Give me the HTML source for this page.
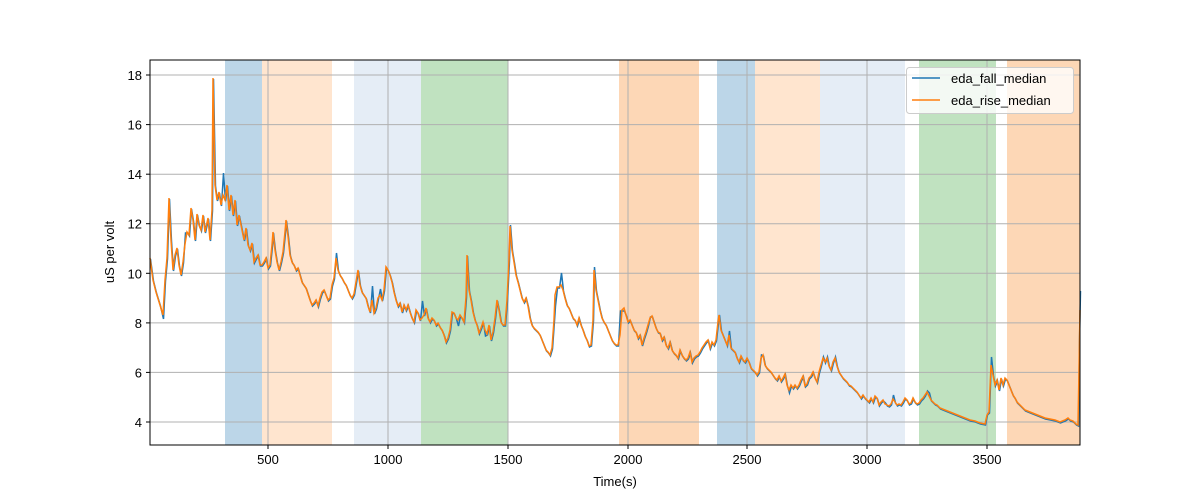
<!DOCTYPE html><html><head><style>body{margin:0;background:#fff}svg{display:block}text{font-family:"Liberation Sans","DejaVu Sans",sans-serif;font-size:13px;fill:#000}</style></head><body>
<svg width="1200" height="500" xmlns="http://www.w3.org/2000/svg">
<rect x="225" y="60" width="37" height="385" fill="#bcd6e8"/>
<rect x="262" y="60" width="70" height="385" fill="#ffe5cf"/>
<rect x="354" y="60" width="67" height="385" fill="#e5edf6"/>
<rect x="421" y="60" width="87" height="385" fill="#c0e2c0"/>
<rect x="619" y="60" width="80" height="385" fill="#fdd7b6"/>
<rect x="717" y="60" width="38" height="385" fill="#bcd6e8"/>
<rect x="755" y="60" width="65" height="385" fill="#ffe5cf"/>
<rect x="820" y="60" width="85" height="385" fill="#e5edf6"/>
<rect x="919" y="60" width="77" height="385" fill="#c0e2c0"/>
<rect x="1007" y="60" width="73" height="385" fill="#fdd7b6"/>
<g stroke="#b0b0b0" stroke-width="1">
<line x1="268" y1="60" x2="268" y2="445"/><line x1="388" y1="60" x2="388" y2="445"/><line x1="508" y1="60" x2="508" y2="445"/><line x1="628" y1="60" x2="628" y2="445"/><line x1="747" y1="60" x2="747" y2="445"/><line x1="867" y1="60" x2="867" y2="445"/><line x1="987" y1="60" x2="987" y2="445"/>
<line x1="150" y1="75" x2="1080" y2="75"/><line x1="150" y1="124.6" x2="1080" y2="124.6"/><line x1="150" y1="174.2" x2="1080" y2="174.2"/><line x1="150" y1="223.7" x2="1080" y2="223.7"/><line x1="150" y1="273.3" x2="1080" y2="273.3"/><line x1="150" y1="322.9" x2="1080" y2="322.9"/><line x1="150" y1="372.4" x2="1080" y2="372.4"/><line x1="150" y1="422" x2="1080" y2="422"/>
</g>
<polyline id="p" fill="none" stroke="#1f77b4" stroke-width="1.5" transform="translate(0.5,1)" points="150,258 153,280 156,292 160,305 163,318 165,280 167,258 169,198 171,240 173,270 175,255 177,248 179,265 181,275 183,262 185,232 187,232 189,235 191,208 193,220 195,240 197,214 199,225 201,230 203,215 205,232 208,218 210,240 212,210 213,78 215,185 217,200 219,192 221,205 223,172 225,200 227,185 229,210 231,195 233,215 235,200 237,225 239,215 242,230 244,240 246,228 248,245 250,250 252,243 254,262 256,258 258,255 260,265 262,265 264,262 266,258 268,268 270,265 272,245 273,232 275,250 277,262 279,270 281,262 283,252 285,232 286,220 288,236 290,255 292,262 294,265 296,270 298,268 300,275 302,282 304,285 306,288 308,294 310,300 312,305 314,303 316,300 318,306 320,298 322,292 324,290 326,295 328,300 330,298 332,285 334,278 336,252 338,270 340,275 342,278 344,282 346,285 348,290 350,295 352,298 354,294 356,282 358,270 360,285 362,292 364,295 366,298 368,306 370,312 372,285 374,313 376,308 378,298 380,288 382,300 384,290 386,267 388,270 390,275 392,282 394,292 396,300 398,306 400,303 402,312 404,305 406,310 408,305 410,312 412,318 414,322 416,310 418,313 420,320 422,300 424,315 426,308 428,318 430,322 432,318 434,320 436,325 438,323 440,327 442,330 444,335 446,342 448,338 450,330 452,312 454,313 456,318 458,325 460,315 462,318 464,322 466,297 467,255 469,290 471,300 473,312 475,320 477,325 479,333 481,328 483,322 485,335 487,334 489,325 491,340 493,332 495,318 497,300 499,310 501,322 503,325 505,325 507,300 509,260 510,224 512,250 514,262 516,275 518,282 520,290 522,298 524,302 526,298 528,306 530,318 532,325 534,328 536,330 538,332 540,335 542,340 544,345 546,350 548,352 550,355 552,348 554,320 555,305 557,287 559,287 561,272 563,290 565,298 567,305 569,308 571,313 573,318 575,320 577,325 579,318 581,325 583,330 585,336 587,340 589,346 591,345 593,320 594,266 596,290 598,300 600,310 602,318 604,322 606,325 608,330 610,335 612,340 614,343 616,345 618,345 620,310 622,310 624,310 626,315 628,322 630,320 632,325 634,330 636,332 638,338 640,335 642,345 644,338 646,332 648,325 650,316 652,316 654,322 656,328 658,332 660,333 662,340 664,337 666,345 668,348 670,342 672,350 674,353 676,355 678,358 680,350 682,355 684,358 686,360 688,358 690,352 692,362 694,358 696,356 698,355 700,352 702,348 704,345 706,342 708,340 710,348 712,342 714,345 716,340 718,322 719,314 721,330 723,335 725,340 727,345 729,330 731,348 733,350 735,352 737,358 739,362 741,356 743,360 745,362 747,358 749,362 751,368 753,370 755,372 757,375 759,372 761,354 763,355 765,365 767,368 769,370 771,372 773,375 775,378 777,380 779,376 781,381 783,378 785,374 787,385 789,392 791,385 793,388 795,385 797,388 799,385 801,380 803,376 805,386 807,384 809,378 811,376 813,372 815,378 817,382 819,372 821,365 823,356 825,362 827,356 829,366 831,370 833,362 835,356 837,366 839,372 841,375 843,378 845,380 847,382 849,385 851,386 853,388 855,390 857,392 859,395 861,398 863,395 865,398 867,400 869,402 871,398 873,402 875,396 877,398 879,405 881,402 883,400 885,402 887,405 889,406 891,404 893,394 895,402 897,405 899,404 901,405 903,402 905,398 907,400 909,404 911,403 913,398 915,402 917,404 919,403 921,400 923,398 925,395 927,390 929,392 931,400 933,402 935,404 937,405 940,408 945,410 950,412 955,414 960,416 965,418 970,420 975,421 980,423 985,424 987,414 989,412 991,356 993,375 995,385 997,380 999,390 1001,378 1003,385 1005,378 1007,380 1009,385 1011,390 1013,395 1015,398 1017,402 1020,405 1025,410 1030,412 1035,414 1040,416 1045,418 1050,419 1055,420 1060,422 1065,420 1068,418 1070,420 1073,421 1076,424 1078,425 1079,340 1080,290"/>
<polyline fill="none" stroke="#ff7f0e" stroke-width="1.5" points="150,258 153,280 156,292 160,305 163,315 165,280 167,258 169,198 171,240 173,270 175,255 177,248 179,265 181,275 183,262 185,244 187,232 189,235 191,208 193,220 195,240 197,214 199,225 201,230 203,215 205,232 208,218 210,240 212,210 213,78 215,185 217,200 219,192 221,205 223,195 225,200 227,185 229,210 231,195 233,215 235,200 237,225 239,215 242,230 244,240 246,228 248,245 250,250 252,243 254,262 256,258 258,255 260,265 262,265 264,262 266,258 268,268 270,265 272,245 273,232 275,250 277,262 279,270 281,262 283,252 285,232 286,220 288,236 290,255 292,262 294,265 296,270 298,268 300,275 302,282 304,285 306,288 308,294 310,300 312,305 314,303 316,300 318,306 320,298 322,292 324,290 326,295 328,300 330,298 332,285 334,278 336,258 338,270 340,275 342,278 344,282 346,285 348,290 350,295 352,298 354,294 356,282 358,270 360,285 362,292 364,295 366,298 368,306 370,312 372,300 374,313 376,308 378,298 380,295 382,300 384,290 386,267 388,270 390,275 392,282 394,292 396,300 398,306 400,303 402,312 404,305 406,310 408,305 410,312 412,318 414,322 416,310 418,313 420,320 422,318 424,315 426,308 428,318 430,322 432,318 434,320 436,325 438,323 440,327 442,330 444,335 446,342 448,338 450,330 452,312 454,313 456,318 458,320 460,315 462,318 464,322 466,297 467,255 469,290 471,300 473,312 475,320 477,325 479,333 481,328 483,322 485,330 487,334 489,325 491,340 493,332 495,318 497,300 499,310 501,322 503,325 505,325 507,300 509,260 510,226 512,250 514,262 516,275 518,282 520,290 522,298 524,302 526,298 528,306 530,318 532,325 534,328 536,330 538,332 540,335 542,340 544,345 546,350 548,352 550,355 552,348 554,320 555,295 557,287 559,287 561,285 563,290 565,298 567,305 569,308 571,313 573,318 575,320 577,325 579,318 581,325 583,330 585,336 587,340 589,346 591,345 593,320 594,270 596,290 598,300 600,310 602,318 604,322 606,325 608,330 610,335 612,340 614,343 616,345 618,345 620,335 622,310 624,308 626,315 628,322 630,320 632,325 634,330 636,332 638,338 640,335 642,345 644,338 646,332 648,325 650,318 652,316 654,322 656,328 658,332 660,333 662,340 664,337 666,345 668,348 670,342 672,350 674,353 676,355 678,358 680,350 682,355 684,358 686,360 688,358 690,352 692,362 694,358 696,356 698,355 700,352 702,348 704,345 706,342 708,340 710,348 712,342 714,345 716,340 718,322 719,315 721,330 723,335 725,340 727,345 729,335 731,348 733,350 735,352 737,358 739,362 741,356 743,360 745,362 747,358 749,362 751,368 753,370 755,372 757,375 759,372 761,358 763,355 765,365 767,368 769,370 771,372 773,375 775,378 777,380 779,376 781,381 783,378 785,374 787,385 789,390 791,385 793,388 795,385 797,388 799,385 801,380 803,376 805,386 807,384 809,378 811,376 813,372 815,378 817,382 819,372 821,365 823,358 825,362 827,358 829,366 831,370 833,362 835,358 837,366 839,372 841,375 843,378 845,380 847,382 849,385 851,386 853,388 855,390 857,392 859,395 861,398 863,395 865,398 867,400 869,402 871,398 873,402 875,396 877,398 879,405 881,402 883,400 885,404 887,405 889,406 891,404 893,399 895,402 897,405 899,404 901,405 903,402 905,398 907,400 909,404 911,403 913,398 915,402 917,404 919,403 921,400 923,398 925,395 927,392 929,396 931,400 933,402 935,404 937,405 940,408 945,410 950,412 955,414 960,416 965,418 970,420 975,421 980,423 985,424 987,415 989,412 991,365 993,375 995,385 997,380 999,390 1001,378 1003,385 1005,378 1007,380 1009,385 1011,390 1013,395 1015,398 1017,402 1020,405 1025,410 1030,412 1035,414 1040,416 1045,418 1050,419 1055,420 1060,422 1065,420 1068,418 1070,420 1073,421 1076,424 1078,425 1079,370 1080,310"/>
<rect x="150" y="60" width="930" height="385" fill="none" stroke="#000" stroke-width="1"/>
<g stroke="#000"><line x1="268" y1="445" x2="268" y2="449"/><line x1="388" y1="445" x2="388" y2="449"/><line x1="508" y1="445" x2="508" y2="449"/><line x1="628" y1="445" x2="628" y2="449"/><line x1="747" y1="445" x2="747" y2="449"/><line x1="867" y1="445" x2="867" y2="449"/><line x1="987" y1="445" x2="987" y2="449"/>
<line x1="146" y1="75" x2="150" y2="75"/><line x1="146" y1="124.6" x2="150" y2="124.6"/><line x1="146" y1="174.2" x2="150" y2="174.2"/><line x1="146" y1="223.7" x2="150" y2="223.7"/><line x1="146" y1="273.3" x2="150" y2="273.3"/><line x1="146" y1="322.9" x2="150" y2="322.9"/><line x1="146" y1="372.4" x2="150" y2="372.4"/><line x1="146" y1="422" x2="150" y2="422"/></g>
<g text-anchor="middle"><text x="268" y="464">500</text><text x="388" y="464">1000</text><text x="508" y="464">1500</text><text x="628" y="464">2000</text><text x="747" y="464">2500</text><text x="867" y="464">3000</text><text x="987" y="464">3500</text><text x="615" y="486">Time(s)</text></g>
<g text-anchor="end"><text x="142" y="80">18</text><text x="142" y="129.6">16</text><text x="142" y="179.2">14</text><text x="142" y="228.7">12</text><text x="142" y="278.3">10</text><text x="142" y="327.9">8</text><text x="142" y="377.4">6</text><text x="142" y="427">4</text></g>
<text transform="translate(114,252) rotate(-90)" text-anchor="middle">uS per volt</text>
<rect x="906.5" y="67.5" width="167" height="46" rx="3" fill="#fff" fill-opacity="0.8" stroke="#ccc"/>
<line x1="912" y1="78" x2="940" y2="78" stroke="#1f77b4" stroke-width="1.5"/><text x="951" y="83">eda_fall_median</text>
<line x1="912" y1="100" x2="940" y2="100" stroke="#ff7f0e" stroke-width="1.5"/><text x="951" y="105">eda_rise_median</text>
</svg></body></html>
